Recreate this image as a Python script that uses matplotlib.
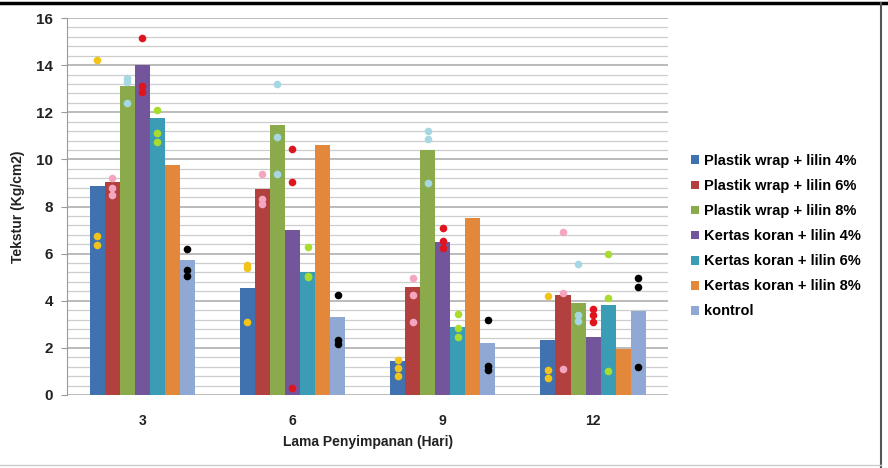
import matplotlib
matplotlib.use("Agg")
from matplotlib import pyplot as plt
from matplotlib.lines import Line2D
import numpy as np

plt.rcParams['font.family'] = ['Liberation Sans', 'DejaVu Sans']

# data
hari = ['3', '6', '9', '12']
seri = ['Plastik wrap + lilin 4%', 'Plastik wrap + lilin 6%', 'Plastik wrap + lilin 8%',
        'Kertas koran + lilin 4%', 'Kertas koran + lilin 6%', 'Kertas koran + lilin 8%',
        'kontrol']
rata = [
    [8.85, 4.55, 1.45, 2.35],
    [9.05, 8.75, 4.6, 4.25],
    [13.1, 11.45, 10.4, 3.9],
    [14.0, 7.0, 6.5, 2.45],
    [11.75, 5.2, 2.88, 3.8],
    [9.75, 10.6, 7.5, 1.95],
    [5.75, 3.3, 2.2, 3.55],
]
# ulangan (titik) per seri per hari, None = tidak ada titik
ulangan = [
    [[14.2, 6.75, 6.35], [5.5, 5.4, 3.1], [1.5, 1.15, 0.8], [4.2, 1.05, 0.7]],
    [[9.2, 8.8, 8.5], [9.4, 8.3, 8.1], [4.95, 4.25, 3.1], [6.9, 4.35, 1.1]],
    [[13.45, 13.3, 12.4], [13.2, 10.95, 9.4], [11.2, 10.85, 9.0], [5.55, 3.4, 3.15]],
    [[15.15, 13.1, 12.85], [10.45, 9.05, 0.3], [7.1, 6.55, 6.25], [3.65, 3.4, 3.1]],
    [[12.1, 11.1, 10.75], [6.3, 5.05, 5.0], [3.45, 2.85, 2.45], [6.0, 4.1, 1.0]],
    None,
    [[6.2, 5.3, 5.05], [4.25, 2.35, 2.15], [3.2, 1.25, 1.05], [4.95, 4.6, 1.2]],
]

warna_bar = ['#3F72AF', '#B2403E', '#8AAA4B', '#72559A', '#3A9CB5', '#E3873A', '#90A9D4']
warna_titik = ['#F2C318', '#F4A6C0', '#A6D8E3', '#E0141E', '#A8DC2E', None, '#000000']

fig = plt.figure(figsize=(8.88, 4.68), dpi=100)
ax = fig.add_axes([0.0755, 0.156, 0.677, 0.8055])

x = np.arange(len(hari))
lebar = 0.1
for i, s in enumerate(seri):
    pos = x - 0.35 + lebar * (i + 0.5)
    ax.bar(pos, rata[i], width=lebar, color=warna_bar[i], label=s, zorder=2)
    if ulangan[i] is not None:
        for j in range(len(hari)):
            ax.scatter([pos[j]] * len(ulangan[i][j]), ulangan[i][j], s=30,
                       color=warna_titik[i], zorder=3, linewidths=0)

ax.set_xlim(-0.5, 3.5)
ax.set_ylim(0, 16)
ax.set_yticks(np.arange(0, 17, 2))
ax.set_yticks(np.arange(0, 16.01, 0.4), minor=True)
ax.yaxis.grid(True, which='major', color='#a8a8a8', lw=1.1, zorder=0)
ax.yaxis.grid(True, which='minor', color='#cdcdcd', lw=0.9, zorder=0)
ax.set_axisbelow(True)
ax.set_xticks(x)
ax.set_xticklabels(hari, fontsize=10, fontweight='bold', color='#222222')
ax.tick_params(axis='x', length=0, pad=14)
ax.tick_params(axis='y', which='major', length=4, color='#999999', labelsize=11,
               labelcolor='#222222', pad=6)
ax.tick_params(axis='y', which='minor', length=0)
for lbl in ax.get_yticklabels():
    lbl.set_fontweight('bold')
for sp in ['top', 'right', 'bottom']:
    ax.spines[sp].set_visible(False)
ax.spines['left'].set_color('#999999')

ax.set_xlabel('Lama Penyimpanan (Hari)', fontsize=10, fontweight='bold', color='#222222', labelpad=5)
ax.set_ylabel('Tekstur (Kg/cm2)', fontsize=10, fontweight='bold', color='#222222', labelpad=8)

leg = ax.legend(loc='upper left', bbox_to_anchor=(0.763, 0.699), bbox_transform=fig.transFigure,
                frameon=False, handlelength=0.55, handleheight=0.55, handletextpad=0.35,
                labelspacing=0.76, prop={'weight': 'bold', 'size': 10.5})

# bingkai luar
fig.add_artist(Line2D([0, 1], [0.993, 0.993], color='black', lw=2.5, transform=fig.transFigure))
fig.add_artist(Line2D([0.992, 0.992], [0, 0.993], color='#555555', lw=1.5, transform=fig.transFigure))
fig.add_artist(Line2D([0, 0.992], [0.006, 0.006], color='#cccccc', lw=1.0, transform=fig.transFigure))

fig.savefig('out.png', dpi=100)
